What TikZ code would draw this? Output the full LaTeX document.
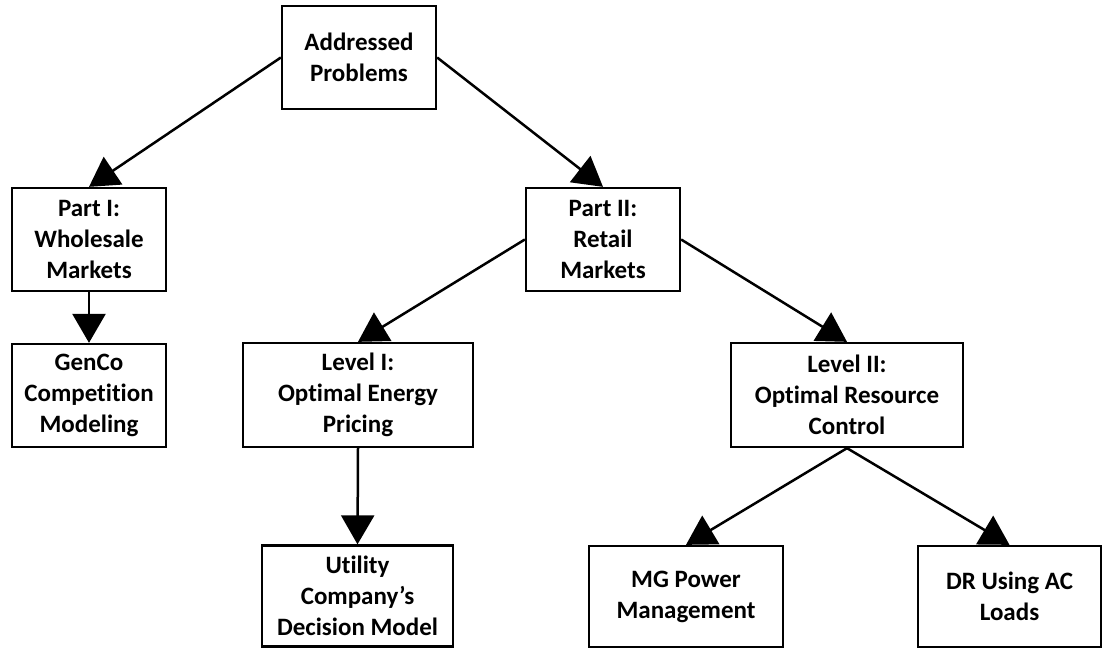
\documentclass[tikz,border=0pt]{standalone}
\usepackage{fontspec}
\setmainfont[Ligatures=NoCommon]{Carlito}
\usetikzlibrary{arrows.meta}
\begin{document}
\begin{tikzpicture}[x=1pt,y=-1pt,
  box/.style={draw, line width=2.3pt, align=center, inner sep=0pt,
    font=\fontsize{25}{31}\selectfont\bfseries},
  link/.style={line width=2.5pt, -{Triangle[length=29pt,width=33pt]}}]
\useasboundingbox (0,0) rectangle (1103,648);

% top of the hierarchy
\node[box, minimum width=154pt, minimum height=103pt] (A) at (359,57.5) {Addressed\\Problems};

% the two parts
\node[box, minimum width=154pt, minimum height=103pt] (P1) at (89,239.5) {Part I:\\Wholesale\\Markets};
\node[box, minimum width=154pt, minimum height=103pt] (P2) at (603,239.5) {Part II:\\Retail\\Markets};

% second row
\node[box, minimum width=154pt, minimum height=103pt] (G) at (89,395.5) {GenCo\\Competition\\Modeling};
\node[box, minimum width=230pt, minimum height=104pt] (L1) at (358,395) {Level I:\\Optimal Energy\\Pricing};
\node[box, minimum width=232pt, minimum height=104pt] (L2) at (847,395) {Level II:\\Optimal Resource\\Control};

% bottom row
\node[box, minimum width=191pt, minimum height=101pt] (U) at (357.5,596) {Utility\\Company’s\\Decision Model};
\node[box, minimum width=194pt, minimum height=101pt] (MG) at (686,596.5) {MG Power\\Management};
\node[box, minimum width=183pt, minimum height=101pt] (DR) at (1009.5,596.5) {DR Using AC\\Loads};

% connectors
\draw[link] (A.west) -- (P1.north);
\draw[link] (A.east) -- (P2.north);
\draw[link] (P1.south) -- (G.north);
\draw[link] (P2.west) -- (L1.north);
\draw[link] (P2.east) -- (L2.north);
\draw[link] (L1.south) -- (U.north);
\draw[link] (L2.south) -- (MG.north);
\draw[link] (L2.south) -- (DR.north);
\end{tikzpicture}
\end{document}
